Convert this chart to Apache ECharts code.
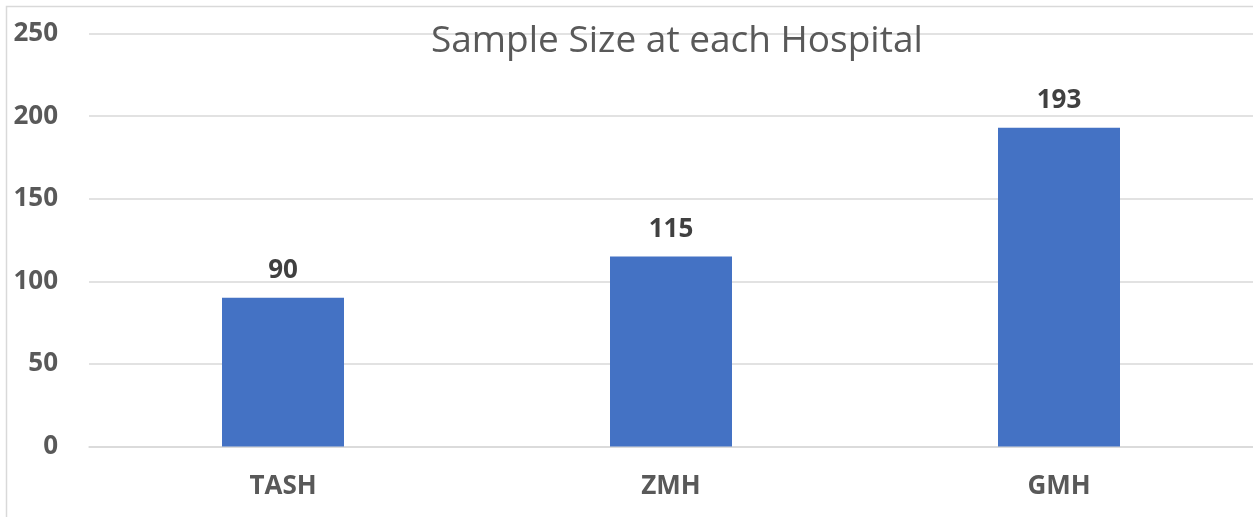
<!DOCTYPE html>
<html>
<head>
<meta charset="utf-8">
<script src="https://cdn.jsdelivr.net/npm/echarts@6/dist/echarts.min.js"></script>
<style>
  html, body { margin: 0; padding: 0; background: #fff; }
  #chart { width: 1253px; height: 517px; }
</style>
</head>
<body>
<div id="chart"></div>
<script>
// data
const hospitals = ['TASH', 'ZMH', 'GMH'];
const sampleSizes = [90, 115, 193];
const yTicks = [0, 50, 100, 150, 200, 250];

const chart = echarts.init(document.getElementById('chart'));

const option = {
  animation: false,
  backgroundColor: '#fff',
  title: {
    text: 'Sample Size at each Hospital',
    left: 426,
    top: 18,
    textStyle: {
      fontFamily: 'Open Sans',
      fontSize: 37,
      fontWeight: 'normal',
      color: '#595959'
    }
  },
  graphic: [{
    type: 'rect',
    shape: { x: 6.5, y: 6.5, width: 1300, height: 600 },
    style: { fill: 'none', stroke: '#d9d9d9', lineWidth: 1.5 },
    silent: true
  }],
  grid: { left: 89, right: -3, top: 33.5, bottom: 70.5 },
  xAxis: {
    type: 'category',
    data: hospitals,
    axisLine: { show: true, lineStyle: { color: '#d9d9d9', width: 1.5 } },
    axisTick: { show: false },
    axisLabel: {
      margin: 27,
      fontFamily: 'Open Sans',
      fontSize: 26,
      fontWeight: 'bold',
      color: '#595959'
    }
  },
  yAxis: {
    type: 'value',
    min: yTicks[0],
    max: yTicks[yTicks.length - 1],
    interval: 50,
    axisLine: { show: false },
    axisTick: { show: false },
    splitLine: { lineStyle: { color: '#d9d9d9', width: 1.5 } },
    axisLabel: {
      margin: 31,
      fontFamily: 'Open Sans',
      fontSize: 26,
      fontWeight: 'bold',
      color: '#595959'
    }
  },
  series: [{
    type: 'bar',
    data: sampleSizes,
    barWidth: 122,
    itemStyle: { color: '#4472C4' },
    label: {
      show: true,
      position: 'top',
      distance: 14,
      fontFamily: 'Open Sans',
      fontSize: 26,
      fontWeight: 'bold',
      color: '#404040'
    }
  }]
};

chart.setOption(option);
</script>
</body>
</html>
